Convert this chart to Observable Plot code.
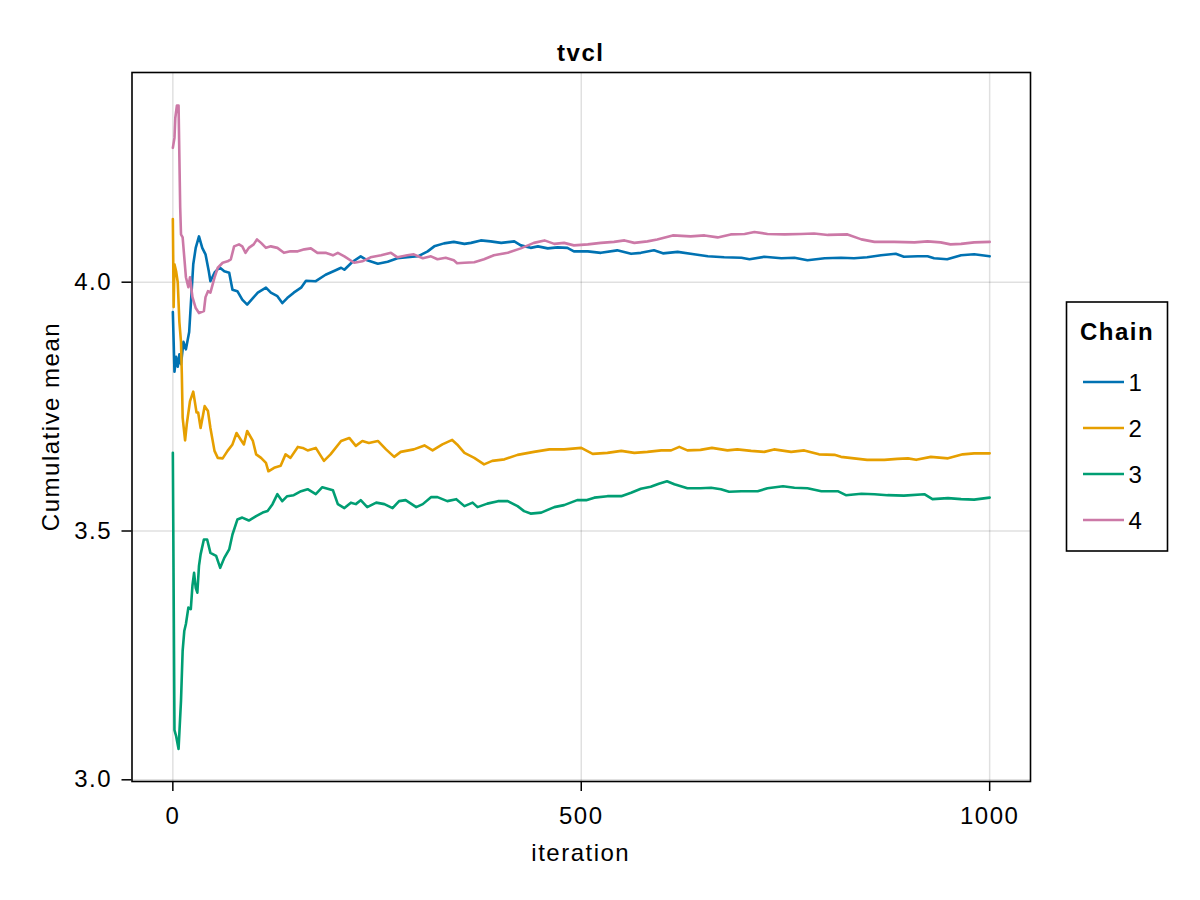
<!DOCTYPE html>
<html>
<head>
<meta charset="utf-8">
<script src="https://cdn.jsdelivr.net/npm/d3@7"></script>
<script src="https://cdn.jsdelivr.net/npm/@observablehq/plot@0.6"></script>
<style>
  html, body { margin: 0; padding: 0; background: #fff; }
  #chart { width: 1200px; height: 900px; }
</style>
</head>
<body>
<div id="chart"></div>
<script>
// ---- Data ----
const chainNames = ["1", "2", "3", "4"];
const chainColors = ["#0072B2", "#E69F00", "#009E73", "#CC79A7"];
const xTicks = [0, 500, 1000];
const yTicks = [3.0, 3.5, 4.0];
const titleText = "tvcl";
const xLabelText = "iteration";
const yLabelText = "Cumulative mean";
const legendTitle = "Chain";

const iter1 = [0,2,4,6,8,10,13,16,20,22,25,28,32,36,40,44,46,51,57,63,69,73,79,85,91,98,104,114,120,128,134,140,148,157,163,175,187,198,206,210,220,230,238,251,263,275,287,300,312,320,332,344,357,365,377,389,402,418,426,438,447,459,471,483,491,508,524,544,561,573,589,600,618,638,655,675,696,706,724,745,761,777,798,818,834,850,867,885,895,912,924,932,948,965,981,1000];
const mean1 = [3.94,3.82,3.85,3.83,3.855,3.835,3.88,3.865,3.90,3.955,4.036,4.069,4.092,4.069,4.056,4.022,4.002,4.019,4.030,4.022,4.019,3.985,3.982,3.965,3.955,3.968,3.979,3.989,3.979,3.972,3.958,3.968,3.979,3.989,4.003,4.002,4.015,4.023,4.029,4.025,4.041,4.052,4.044,4.037,4.041,4.048,4.050,4.052,4.062,4.072,4.078,4.081,4.077,4.079,4.084,4.082,4.079,4.082,4.074,4.069,4.072,4.068,4.070,4.069,4.062,4.062,4.059,4.064,4.057,4.059,4.064,4.058,4.061,4.056,4.052,4.050,4.049,4.046,4.051,4.048,4.049,4.044,4.048,4.049,4.048,4.050,4.054,4.057,4.051,4.052,4.052,4.048,4.046,4.054,4.056,4.052];

const iter2 = [0,1,2,4,6,8,10,11,12,15,17,21,25,29,31,34,39,43,46,51,55,61,67,73,78,83,87,91,98,102,108,114,117,124,132,138,144,153,159,165,175,185,193,206,216,224,232,240,251,261,271,279,295,308,318,330,342,348,357,369,381,391,406,422,442,461,479,500,514,532,549,565,581,598,610,620,630,646,660,679,691,708,724,736,757,773,791,810,818,834,850,871,887,900,910,928,949,967,981,1000];
const mean2 = [4.127,3.95,4.036,4.022,4.0,3.92,3.88,3.815,3.728,3.682,3.714,3.761,3.780,3.738,3.738,3.707,3.751,3.741,3.707,3.661,3.647,3.646,3.661,3.674,3.697,3.684,3.674,3.701,3.681,3.654,3.647,3.637,3.620,3.627,3.631,3.654,3.647,3.669,3.667,3.662,3.667,3.641,3.654,3.681,3.687,3.671,3.681,3.677,3.681,3.664,3.649,3.659,3.664,3.672,3.662,3.674,3.683,3.674,3.657,3.647,3.634,3.641,3.644,3.653,3.659,3.664,3.664,3.667,3.655,3.657,3.661,3.657,3.659,3.662,3.662,3.669,3.662,3.663,3.667,3.662,3.664,3.661,3.659,3.664,3.659,3.662,3.654,3.653,3.649,3.646,3.643,3.643,3.645,3.646,3.643,3.649,3.646,3.654,3.656,3.656];

const iter3 = [0,2,4,7,10,12,14,16,19,22,24,26,28,30,32,34,38,42,46,53,58,63,69,73,79,85,93,102,110,116,122,128,134,140,148,157,165,175,183,196,202,210,218,224,230,238,249,259,269,277,285,298,306,316,324,336,347,357,367,373,385,398,410,422,430,438,451,467,479,495,506,516,532,549,561,573,585,595,605,614,630,646,659,671,681,696,716,728,747,761,777,794,814,824,843,859,875,895,920,930,949,965,981,1000];
const mean3 = [3.657,3.10,3.088,3.062,3.159,3.259,3.299,3.313,3.346,3.343,3.390,3.416,3.386,3.376,3.430,3.453,3.483,3.483,3.456,3.450,3.426,3.446,3.463,3.493,3.523,3.527,3.521,3.530,3.537,3.540,3.554,3.574,3.560,3.570,3.572,3.580,3.584,3.574,3.588,3.582,3.554,3.546,3.557,3.554,3.562,3.548,3.557,3.554,3.546,3.560,3.562,3.548,3.554,3.568,3.568,3.560,3.564,3.550,3.557,3.548,3.555,3.560,3.560,3.550,3.540,3.535,3.537,3.548,3.552,3.562,3.562,3.567,3.570,3.570,3.577,3.585,3.589,3.595,3.600,3.594,3.586,3.586,3.587,3.584,3.579,3.580,3.580,3.586,3.590,3.587,3.586,3.580,3.580,3.572,3.575,3.574,3.572,3.571,3.574,3.564,3.566,3.564,3.563,3.567];

const iter4 = [0,2,3,5,7,9,10,12,16,19,21,24,28,32,38,40,43,46,51,55,61,67,71,75,81,85,89,93,99,103,108,114,120,128,136,144,153,161,169,177,187,196,202,210,222,232,242,255,267,275,287,295,306,316,324,334,344,348,357,369,381,393,410,426,442,455,467,479,491,508,524,540,553,565,581,593,612,634,651,667,683,700,712,728,749,769,785,802,826,843,859,883,908,924,940,952,965,981,1000];
const mean4 = [4.27,4.29,4.33,4.355,4.355,4.15,4.096,4.09,4.01,3.99,4.01,3.97,3.948,3.938,3.942,3.97,3.982,3.979,4.009,4.029,4.039,4.042,4.046,4.072,4.076,4.072,4.059,4.069,4.076,4.086,4.079,4.069,4.072,4.069,4.059,4.062,4.062,4.066,4.068,4.059,4.059,4.054,4.059,4.052,4.039,4.042,4.050,4.054,4.059,4.050,4.054,4.056,4.048,4.052,4.046,4.049,4.044,4.038,4.039,4.040,4.046,4.054,4.059,4.068,4.079,4.084,4.077,4.079,4.074,4.076,4.079,4.081,4.084,4.079,4.082,4.086,4.094,4.092,4.094,4.090,4.096,4.097,4.101,4.097,4.096,4.097,4.098,4.095,4.096,4.086,4.081,4.081,4.080,4.082,4.080,4.076,4.077,4.080,4.081];

const chainIters = [iter1, iter2, iter3, iter4];
const chainMeans = [mean1, mean2, mean3, mean4];

// ---- Build tidy table ----
const rows = [];
chainNames.forEach((c, k) => {
  chainIters[k].forEach((it, i) => rows.push({chain: c, iteration: it, mean: chainMeans[k][i]}));
});

const FONT = "'Liberation Sans', Arial, Helvetica, sans-serif";
const LS = "1.5px";

const ML = 131.5, MR = 170, MT = 72, MB = 119, W = 1200, H = 900;

const plot = Plot.plot({
  width: W,
  height: H,
  marginLeft: ML,
  marginRight: MR,
  marginTop: MT,
  marginBottom: MB,
  style: {fontFamily: FONT, fontSize: "24px", letterSpacing: LS, color: "#000", background: "#fff", overflow: "visible"},
  x: {domain: [-50, 1050], label: null},
  y: {domain: [2.9966, 4.4214], label: null},
  color: {domain: chainNames, range: chainColors},
  marks: [
    Plot.gridX(xTicks, {stroke: "#000", strokeOpacity: 0.12, strokeWidth: 1.5}),
    Plot.gridY(yTicks, {stroke: "#000", strokeOpacity: 0.12, strokeWidth: 1.5}),
    Plot.line(rows, {x: "iteration", y: "mean", z: "chain", stroke: "chain", strokeWidth: 2.6, strokeLinejoin: "round"}),
    Plot.frame({stroke: "#000", strokeWidth: 1.6}),
    Plot.axisX({ticks: xTicks, tickFormat: d => String(d), tickSize: 10, tickPadding: 15, strokeWidth: 1.5, label: null, fill: "#000"}),
    Plot.axisY({ticks: yTicks, tickFormat: d3.format(".1f"), tickSize: 10, tickPadding: 10, strokeWidth: 1.5, label: null, fill: "#000"})
  ]
});

document.getElementById("chart").appendChild(plot);

// ---- Title, axis labels, legend (non-data decorations) ----
const svg = d3.select(plot);
const cx = ML + (W - ML - MR) / 2;
const cy = MT + (H - MT - MB) / 2;

svg.append("text").text(titleText)
  .attr("x", cx).attr("y", 60.5)
  .attr("text-anchor", "middle")
  .attr("font-family", FONT).attr("font-size", 24).attr("font-weight", "bold")
  .attr("fill", "#000");

svg.append("text").text(xLabelText)
  .attr("x", cx).attr("y", 861)
  .attr("text-anchor", "middle")
  .attr("font-family", FONT).attr("font-size", 24)
  .attr("fill", "#000");

svg.append("text").text(yLabelText)
  .attr("transform", `translate(58.5, ${cy}) rotate(-90)`)
  .attr("text-anchor", "middle")
  .attr("font-family", FONT).attr("font-size", 24)
  .attr("fill", "#000");

const lg = svg.append("g");
lg.append("rect")
  .attr("x", 1066.5).attr("y", 302).attr("width", 101).attr("height", 249)
  .attr("fill", "#fff").attr("stroke", "#000").attr("stroke-width", 1.6);
lg.append("text").text(legendTitle)
  .attr("x", 1117).attr("y", 339.5)
  .attr("text-anchor", "middle")
  .attr("font-family", FONT).attr("font-size", 24).attr("font-weight", "bold")
  .attr("fill", "#000");
chainNames.forEach((c, i) => {
  const y = 382 + i * 46;
  lg.append("line")
    .attr("x1", 1083).attr("x2", 1124).attr("y1", y).attr("y2", y)
    .attr("stroke", chainColors[i]).attr("stroke-width", 2.6);
  lg.append("text").text(c)
    .attr("x", 1136).attr("y", y + 8.5)
    .attr("font-family", FONT).attr("font-size", 24)
    .attr("fill", "#000");
});
</script>
</body>
</html>
